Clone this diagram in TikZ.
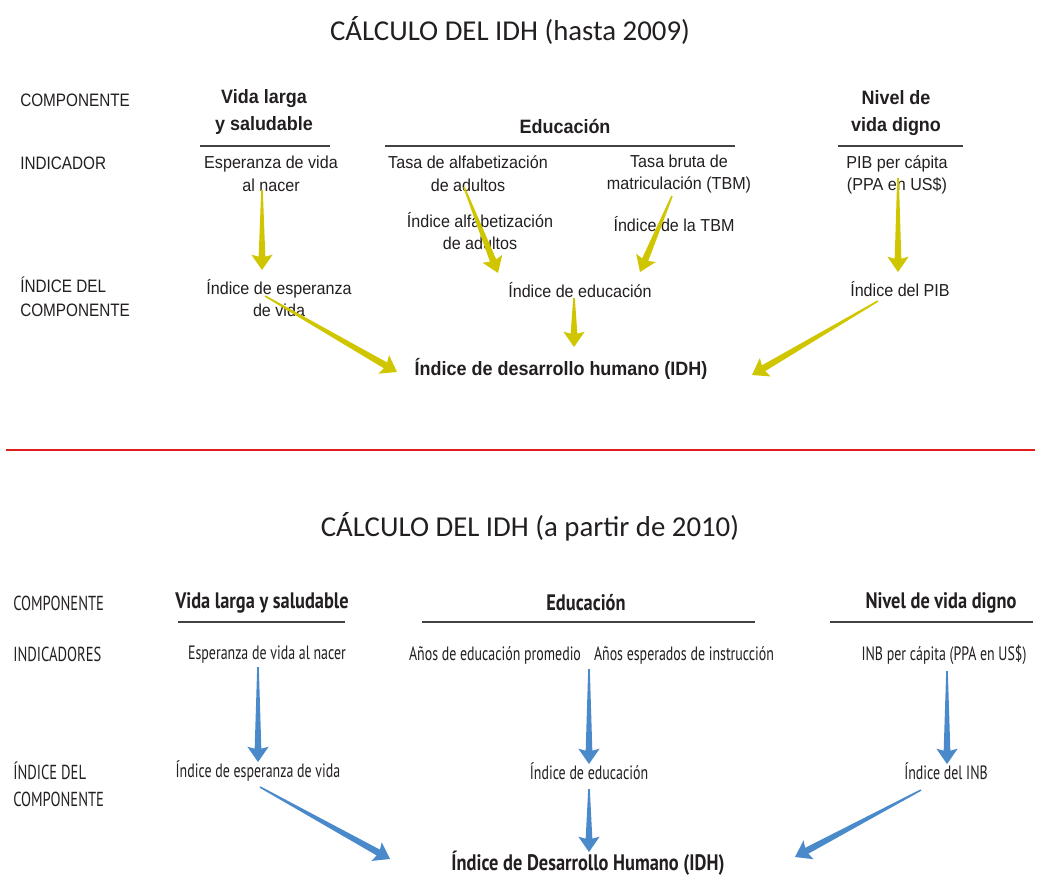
\documentclass[tikz,border=0pt]{standalone}
\usepackage{fontspec}
\usetikzlibrary{calc}
\setmainfont{Liberation Sans}
\newfontfamily\titlefont{Carlito}
\newfontfamily\topfont[FakeStretch=0.93]{Liberation Sans}
\newfontfamily\toplabfont[FakeStretch=0.85]{Liberation Sans}
\newfontfamily\botfont[FakeStretch=0.72]{PT Sans}
\newfontfamily\botbfont[FakeStretch=0.82]{PT Sans}
\definecolor{ylw}{RGB}{208,198,0}
\definecolor{blu}{RGB}{74,138,203}
\definecolor{txt}{RGB}{35,31,32}
\definecolor{redl}{RGB}{225,30,30}
\newcommand\wedgearrow[3]{%
  \coordinate (hbA) at ($(#2)!10pt!(#1)$);
  \coordinate (hbB) at ($(#2)!11.5pt!(#1)$);
  \fill[#3] ($(#1)!0.6pt!90:(#2)$) -- ($(hbA)!2.5pt!90:(#2)$) -- ($(hbB)!8pt!90:(#2)$) -- (#2)
    -- ($(hbB)!8pt!-90:(#2)$) -- ($(hbA)!2.5pt!-90:(#2)$) -- ($(#1)!0.6pt!-90:(#2)$) -- cycle;}
\tikzset{
  every node/.style={inner sep=0pt, text=txt},
  ttl/.style={font=\titlefont\fontsize{21.6}{26}\selectfont},
  tlab/.style={anchor=west, align=left, font=\toplabfont\fontsize{13.5}{18}\selectfont},
  thead/.style={align=center, font=\topfont\bfseries\fontsize{14.5}{20}\selectfont},
  ttext/.style={align=center, font=\topfont\fontsize{13}{17}\selectfont},
  blab/.style={anchor=west, align=left, font=\botfont\fontsize{15.2}{20}\selectfont},
  bhead/.style={align=center, font=\botbfont\bfseries\fontsize{16.8}{20}\selectfont},
  btext/.style={align=center, font=\botfont\fontsize{14.5}{17}\selectfont},
  rule/.style={draw=txt!85, line width=1.5pt},
}
\begin{document}
\begin{tikzpicture}[x=0.75pt,y=-0.75pt]
\useasboundingbox[fill=white] (0,0) rectangle (1037,877);
% ---------------- top ----------------
\node[ttl] (t1) at (510,30) {CÁLCULO DEL IDH (hasta 2009)};
\node[tlab] (l1) at (20,100) {COMPONENTE};
\node[tlab] (l2) at (20,163) {INDICADOR};
\node[tlab] (l3) at (20,297) {ÍNDICE DEL\\COMPONENTE};
\node[thead] (c1) at (264,112) {Vida larga\\y saludable};
\node[thead] (c2) at (565,127) {Educación};
\node[thead] (c3) at (896,113) {Nivel de\\vida digno};
\coordinate (r1a) at (200,146); \coordinate (r1b) at (330,146);
\coordinate (r2a) at (385,146); \coordinate (r2b) at (735,146);
\coordinate (r3a) at (838,146); \coordinate (r3b) at (963,146);
\draw[rule] (r1a) -- (r1b); \draw[rule] (r2a) -- (r2b); \draw[rule] (r3a) -- (r3b);
\node[ttext] (i1) at (271,174) {Esperanza de vida\\al nacer};
\node[ttext] (i2) at (468,174) {Tasa de alfabetización\\de adultos};
\node[ttext] (i3) at (679,174) {Tasa bruta de\\matriculación (TBM)};
\node[ttext] (i4) at (897,175) {PIB per cápita\\(PPA en US\$)};
\node[ttext] (s1) at (480,231) {Índice alfabetización\\de adultos};
\node[ttext] (s2) at (674,224) {Índice de la TBM};
\node[ttext] (x1) at (279,298) {Índice de esperanza\\de vida};
\node[ttext] (x2) at (580,290) {Índice de educación};
\node[ttext] (x3) at (900,289) {Índice del PIB};
\node[thead] (idh1) at (561,369) {Índice de desarrollo humano (IDH)};
\coordinate (a1s) at (262,190); \coordinate (a1t) at (262,270);
\coordinate (a2s) at (464,187); \coordinate (a2t) at (498,273);
\coordinate (a3s) at (672,196); \coordinate (a3t) at (640,272);
\coordinate (a4s) at (898,178); \coordinate (a4t) at (898,272);
\coordinate (a5s) at (574,298); \coordinate (a5t) at (574,347);
\coordinate (a6s) at (265,296); \coordinate (a6t) at (397,372);
\coordinate (a7s) at (878,301); \coordinate (a7t) at (752,375);
\wedgearrow{a1s}{a1t}{ylw}
\wedgearrow{a2s}{a2t}{ylw}
\wedgearrow{a3s}{a3t}{ylw}
\wedgearrow{a4s}{a4t}{ylw}
\wedgearrow{a5s}{a5t}{ylw}
\wedgearrow{a6s}{a6t}{ylw}
\wedgearrow{a7s}{a7t}{ylw}
% separator
\coordinate (sepa) at (6,450); \coordinate (sepb) at (1035,450);
\draw[redl, line width=1.4pt] (sepa) -- (sepb);
% ---------------- bottom ----------------
\node[ttl] (t2) at (530,527) {CÁLCULO DEL IDH (a partir de 2010)};
\node[blab] (m1) at (13,603) {COMPONENTE};
\node[blab] (m2) at (13,654) {INDICADORES};
\node[blab] (m3) at (13,784) {ÍNDICE DEL\\COMPONENTE};
\node[bhead] (d1) at (262,603) {Vida larga y saludable};
\node[bhead] (d2) at (586,603) {Educación};
\node[bhead] (d3) at (941,603) {Nivel de vida digno};
\coordinate (q1a) at (178,622); \coordinate (q1b) at (345,622);
\coordinate (q2a) at (422,622); \coordinate (q2b) at (755,622);
\coordinate (q3a) at (830,622); \coordinate (q3b) at (1033,622);
\draw[rule] (q1a) -- (q1b); \draw[rule] (q2a) -- (q2b); \draw[rule] (q3a) -- (q3b);
\node[btext] (j1) at (267,655) {Esperanza de vida al nacer};
\node[btext] (j2) at (495,655) {Años de educación promedio};
\node[btext] (j3) at (684,655) {Años esperados de instrucción};
\node[btext] (j4) at (944,655) {INB per cápita (PPA en US\$)};
\node[btext] (y1) at (258,771) {Índice de esperanza de vida};
\node[btext] (y2) at (589,771) {Índice de educación};
\node[btext] (y3) at (946,771) {Índice del INB};
\node[bhead] (idh2) at (588,863) {Índice de Desarrollo Humano (IDH)};
\coordinate (b1s) at (258,667); \coordinate (b1t) at (258,762);
\coordinate (b2s) at (589,669); \coordinate (b2t) at (589,764);
\coordinate (b3s) at (947,671); \coordinate (b3t) at (947,764);
\coordinate (b4s) at (589,789); \coordinate (b4t) at (589,852);
\coordinate (b5s) at (260,787); \coordinate (b5t) at (390,859);
\coordinate (b6s) at (921,790); \coordinate (b6t) at (795,857);
\wedgearrow{b1s}{b1t}{blu}
\wedgearrow{b2s}{b2t}{blu}
\wedgearrow{b3s}{b3t}{blu}
\wedgearrow{b4s}{b4t}{blu}
\wedgearrow{b5s}{b5t}{blu}
\wedgearrow{b6s}{b6t}{blu}
\end{tikzpicture}
\end{document}
